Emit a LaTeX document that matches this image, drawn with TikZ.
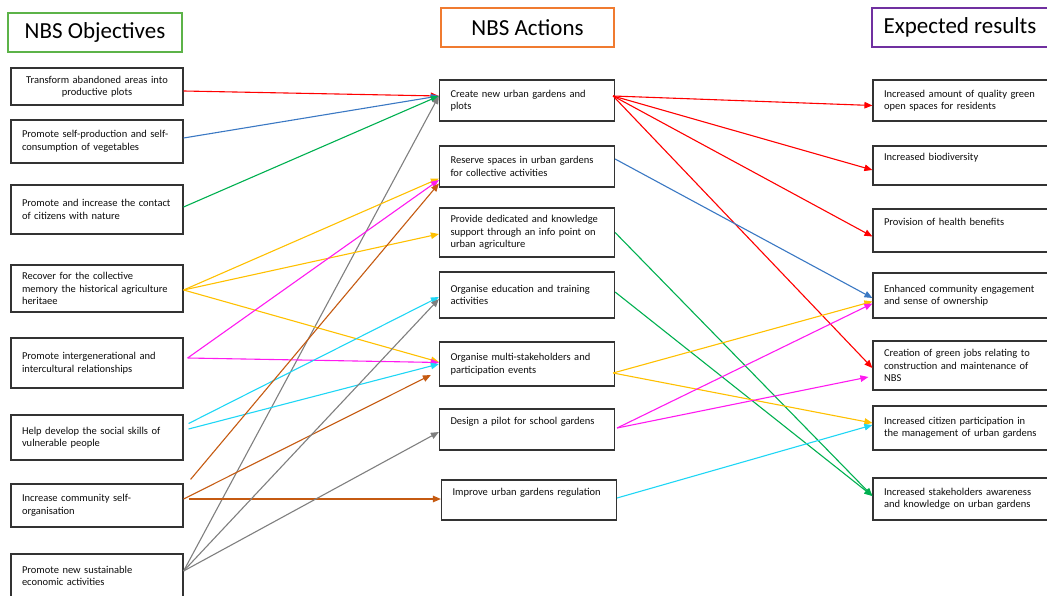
\documentclass[tikz,border=0pt]{standalone}
\usepackage{fontspec}
\setmainfont{Carlito}
\usetikzlibrary{arrows.meta}
\definecolor{lnred}{HTML}{FF0000}
\definecolor{lnblue}{HTML}{3A78C3}
\definecolor{lngreen}{HTML}{00B050}
\definecolor{lnyellow}{HTML}{FFC000}
\definecolor{lnpink}{HTML}{FF1AF0}
\definecolor{lncyan}{HTML}{1ED6F5}
\definecolor{lnbrown}{HTML}{C55A11}
\definecolor{lngray}{HTML}{7F7F7F}
\definecolor{hdgreen}{HTML}{5CB348}
\definecolor{hdorange}{HTML}{F07B30}
\definecolor{hdpurple}{HTML}{7030A0}

\begin{document}
\begin{tikzpicture}[x=1pt,y=-1pt,
  box/.style={draw=black!80, line width=1.2pt, fill=white, inner xsep=11pt, inner ysep=2pt,
    align=left, text=black!95, font=\fontsize{10.5}{12.5}\selectfont},
  obj/.style={box, text width=150pt},
  act/.style={box, text width=153pt},
  res/.style={box, text width=153pt},
  topline/.style={text depth=17pt},
  head/.style={draw, line width=2pt, minimum height=39pt, font=\fontsize{23}{27}\selectfont},
  link/.style={line width=1.1pt, -{Triangle[length=8pt,width=6.5pt]}}]
\useasboundingbox (0,0) rectangle (1047,596);

\node[head, draw=hdgreen, minimum width=174pt] (hobj) at (95,32.5) {NBS Objectives};
\node[head, draw=hdorange, minimum width=173pt] (hact) at (527.5,27.5) {NBS Actions};
\node[head, draw=hdpurple, minimum width=176pt] (hres) at (960,27.5) {Expected results};

\node[obj, align=center, minimum height=37pt] (o1) at (97,86.5) {Transform abandoned areas into\\productive plots};
\node[obj, minimum height=43pt] (o2) at (97,141.5) {Promote self-production and self-\\consumption of vegetables};
\node[obj, minimum height=49pt] (o3) at (97,209.5) {Promote and increase the contact\\of citizens with nature};
\node[obj, minimum height=47pt] (o4) at (97,288.5) {Recover for the collective\\memory the historical agriculture\\heritaee};
\node[obj, minimum height=50pt] (o5) at (97,363) {Promote intergenerational and\\intercultural relationships};
\node[obj, minimum height=45pt] (o6) at (97,437.5) {Help develop the social skills of\\vulnerable people};
\node[obj, minimum height=43pt] (o7) at (97,505.5) {Increase community self-\\organisation};
\node[obj, minimum height=44pt] (o8) at (97,576) {Promote new sustainable\\economic activities};

\node[act, minimum height=41pt] (a1) at (527,100.5) {Create new urban gardens and\\plots};
\node[act, minimum height=41pt] (a2) at (527,166.5) {Reserve spaces in urban gardens\\for collective activities};
\node[act, minimum height=49pt] (a3) at (527,232.5) {Provide dedicated and knowledge\\support through an info point on\\urban agriculture};
\node[act, minimum height=46pt] (a4) at (527,295) {Organise education and training\\activities};
\node[act, minimum height=44pt] (a5) at (527,364) {Organise multi-stakeholders and\\participation events};
\node[act, topline, minimum height=41pt] (a6) at (527,429.5) {Design a pilot for school gardens};
\node[act, topline, minimum height=40pt] (a7) at (529,500) {Improve urban gardens regulation};

\node[res, minimum height=41pt] (r1) at (960.5,100.5) {Increased amount of quality green\\open spaces for residents};
\node[res, topline, minimum height=39pt] (r2) at (960.5,165.5) {Increased biodiversity};
\node[res, topline, minimum height=43pt] (r3) at (960.5,230.5) {Provision of health benefits};
\node[res, minimum height=45pt] (r4) at (960.5,295.5) {Enhanced community engagement\\and sense of ownership};
\node[res, minimum height=49pt] (r5) at (960.5,365.5) {Creation of green jobs relating to\\construction and maintenance of\\NBS};
\node[res, minimum height=44pt] (r6) at (960.5,428) {Increased citizen participation in\\the management of urban gardens};
\node[res, minimum height=42pt] (r7) at (960.5,499) {Increased stakeholders awareness\\and knowledge on urban gardens};

\draw[link, lnred] ([shift={(0,4.5)}]o1.east) -- ([shift={(0,-4.5)}]a1.west);
\draw[link, lnblue] ([shift={(0,-3.5)}]o2.east) -- ([shift={(0,-4.5)}]a1.west);
\draw[link, lngreen] ([shift={(0,-2.5)}]o3.east) -- ([shift={(0,-4.5)}]a1.west);
\draw[link, lngray] ([shift={(0,-5)}]o8.east) -- ([shift={(0,-4.5)}]a1.west);

\draw[link, lnyellow] ([shift={(0,1.5)}]o4.east) -- ([shift={(0,12)}]a2.west);
\draw[link, lnyellow] ([shift={(0,1.5)}]o4.east) -- ([shift={(0,1.5)}]a3.west);
\draw[link, lnyellow] ([shift={(0,1.5)}]o4.east) -- ([shift={(0,-2)}]a5.west);

\draw[link, lnpink] ([shift={(4,-5)}]o5.east) -- ([shift={(0,13.5)}]a2.west);
\draw[link, lnpink] ([shift={(4,-5)}]o5.east) -- ([shift={(0,-1.5)}]a5.west);

\draw[link, lncyan] ([shift={(5,-14)}]o6.east) -- ([shift={(0,2)}]a4.west);
\draw[link, lncyan] ([shift={(5,-8.5)}]o6.east) -- (a5.west);

\draw[link, lnbrown] ([shift={(7,-4)}]o7.north east) -- ([shift={(0,17)}]a2.west);
\draw[link, lnbrown] ([shift={(0,-6.5)}]o7.east) -- ([shift={(-8,11)}]a5.west);
\draw[link, lnbrown] ([shift={(5,-6.5)}]o7.east) -- ([shift={(0,-1)}]a7.west);

\draw[link, lngray] ([shift={(0,-5)}]o8.east) -- ([shift={(0,4)}]a4.west);
\draw[link, lngray] ([shift={(0,-5)}]o8.east) -- ([shift={(0,2.5)}]a6.west);

\draw[link, lnred] ([shift={(-2,-4.5)}]a1.east) -- ([shift={(0,5)}]r1.west);
\draw[link, lnred] ([shift={(-2,-4.5)}]a1.east) -- ([shift={(0,4.5)}]r2.west);
\draw[link, lnred] ([shift={(-2,-4.5)}]a1.east) -- ([shift={(0,6)}]r3.west);
\draw[link, lnred] ([shift={(-2,-4.5)}]a1.east) -- ([shift={(0,2.5)}]r5.west);
\draw[link, lnblue] ([shift={(0,-7.5)}]a2.east) -- ([shift={(0,2.5)}]r4.west);
\draw[link, lngreen] (a3.east) -- ([shift={(0,-3)}]r7.west);
\draw[link, lngreen] ([shift={(0,-3)}]a4.east) -- ([shift={(0,-3)}]r7.west);
\draw[link, lnyellow] ([shift={(-2,9)}]a5.east) -- ([shift={(0,6)}]r4.west);
\draw[link, lnyellow] ([shift={(-2,9)}]a5.east) -- ([shift={(0,-5)}]r6.west);
\draw[link, lnpink] ([shift={(2,-1.5)}]a6.east) -- ([shift={(0,8)}]r4.west);
\draw[link, lnpink] ([shift={(2,-1.5)}]a6.east) -- ([shift={(-4,11.5)}]r5.west);
\draw[link, lncyan] ([shift={(0,-2)}]a7.east) -- ([shift={(0,-3)}]r6.west);
\end{tikzpicture}
\end{document}
